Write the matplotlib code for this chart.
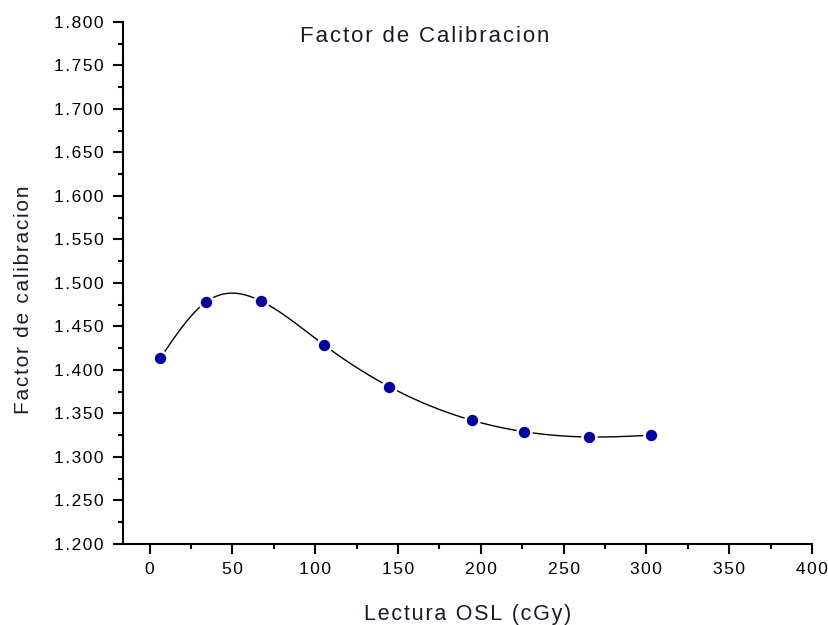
import numpy as np
import matplotlib
matplotlib.use("Agg")
import matplotlib.pyplot as plt
from matplotlib.ticker import MultipleLocator, FuncFormatter

# Data
lectura = [6.6, 34.0, 67.6, 105.2, 144.6, 195.0, 226.4, 265.5, 302.7]
factor = [1.414, 1.478, 1.479, 1.429, 1.381, 1.342, 1.329, 1.323, 1.325]

TITLE = "Factor de Calibracion"
XLABEL = "Lectura OSL (cGy)"
YLABEL = "Factor de calibracion"

HAIR = "\u200a"


def spaced(s):
    # mimic the wide letter spacing of the original
    return HAIR.join(list(s))


def natural_spline(x, y, n=400):
    """Spline connector through the points (like Origin's spline line)."""
    x = np.asarray(x, float)
    y = np.asarray(y, float)
    k = len(x)
    h = np.diff(x)
    A = np.zeros((k, k))
    b = np.zeros(k)
    A[0, 0] = A[-1, -1] = 1.0
    for i in range(1, k - 1):
        A[i, i - 1] = h[i - 1]
        A[i, i] = 2 * (h[i - 1] + h[i])
        A[i, i + 1] = h[i]
        b[i] = 3 * ((y[i + 1] - y[i]) / h[i] - (y[i] - y[i - 1]) / h[i - 1])
    c = np.linalg.solve(A, b)
    xs = np.linspace(x[0], x[-1], n)
    idx = np.clip(np.searchsorted(x, xs) - 1, 0, k - 2)
    dx = xs - x[idx]
    bb = (y[idx + 1] - y[idx]) / h[idx] - h[idx] * (2 * c[idx] + c[idx + 1]) / 3
    dd = (c[idx + 1] - c[idx]) / (3 * h[idx])
    ys = y[idx] + bb * dx + c[idx] * dx ** 2 + dd * dx ** 3
    return xs, ys


plt.rcParams['font.family'] = ['Liberation Sans', 'DejaVu Sans']

fig = plt.figure(figsize=(8.29, 6.25), dpi=100)
ax = fig.add_axes([0.1484, 0.1296, 0.8311, 0.8352])

xs, ys = natural_spline(lectura, factor)
ax.plot(xs, ys, color='black', lw=1.0, zorder=2)
ax.plot(lectura, factor, linestyle='none', marker='o', markersize=10,
        markerfacecolor='#00009E', markeredgecolor='white',
        markeredgewidth=1.8, zorder=3)

ax.set_xlim(-16, 400)
ax.set_ylim(1.2, 1.8)

ax.spines['top'].set_visible(False)
ax.spines['right'].set_visible(False)
ax.spines['left'].set_linewidth(1.5)
ax.spines['bottom'].set_linewidth(1.5)

ax.xaxis.set_major_locator(MultipleLocator(50))
ax.xaxis.set_minor_locator(MultipleLocator(25))
ax.yaxis.set_major_locator(MultipleLocator(0.05))
ax.yaxis.set_minor_locator(MultipleLocator(0.025))
ax.xaxis.set_major_formatter(FuncFormatter(lambda v, p: spaced("%d" % round(v))))
ax.yaxis.set_major_formatter(FuncFormatter(lambda v, p: spaced("%.3f" % v)))

ax.tick_params(which='major', direction='out', length=7.2, width=1.5,
               labelsize=12.5, pad=6, colors='black')
ax.tick_params(which='minor', direction='out', length=3.6, width=1.5)
ax.tick_params(axis='y', which='major', pad=7)

ax.set_xlabel(spaced(XLABEL), fontsize=15.5, labelpad=19, color='#1a1a2e')
ax.set_ylabel(spaced(YLABEL), fontsize=15, labelpad=14, color='#1a1a2e')
ax.yaxis.set_label_coords(-0.13, 0.467)
fig.text(425 / 829, 1 - 37 / 625, spaced(TITLE), fontsize=16,
         ha='center', va='center', color='#1a1a2e')

fig.savefig("out.png", dpi=100)
